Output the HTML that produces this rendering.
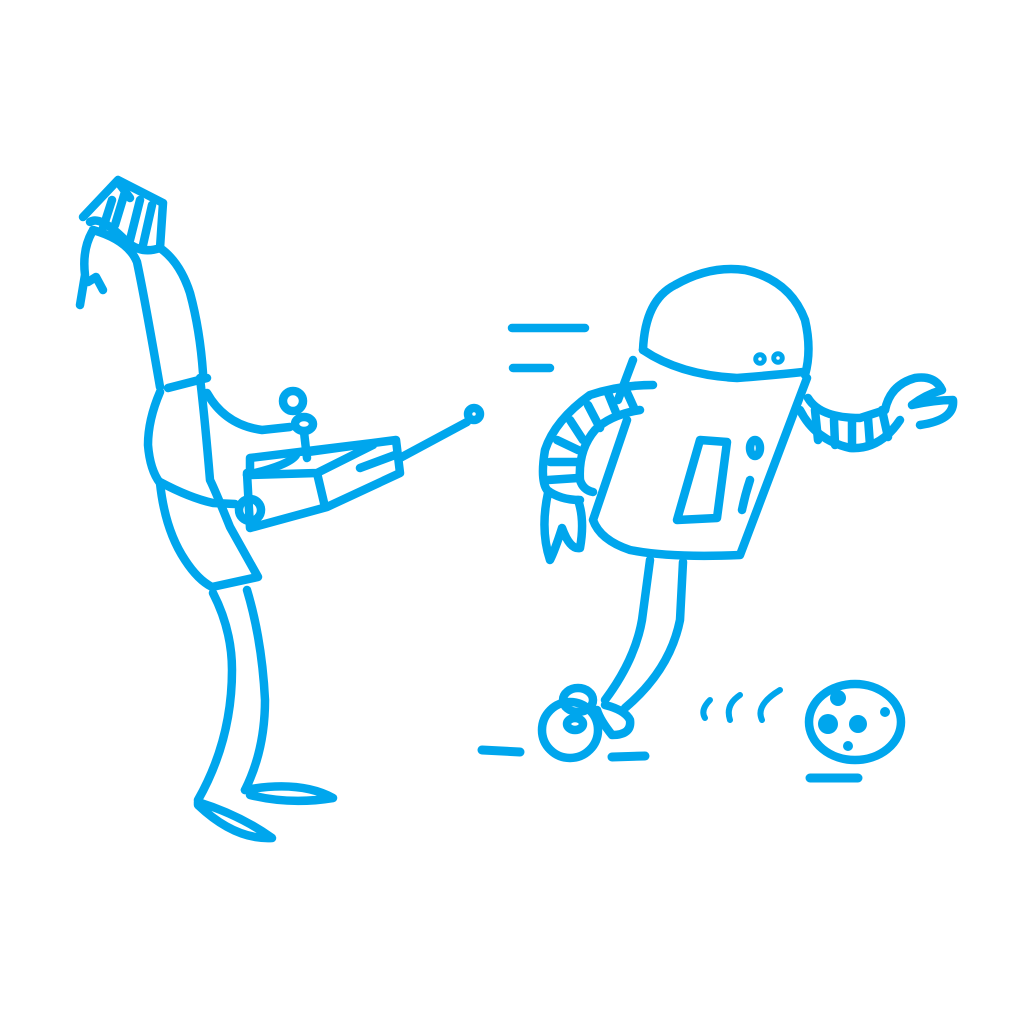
<!DOCTYPE html>
<html><head><style>html,body{margin:0;padding:0;background:#fff}svg{display:block}</style></head>
<body>
<svg width="1024" height="1024" viewBox="0 0 1024 1024" xmlns="http://www.w3.org/2000/svg">
<g fill="none" stroke="#00a6ed" stroke-width="8.5" stroke-linecap="round" stroke-linejoin="round">
<path d="M83 217 L118 180 L163 203 L160 248 Q140 255 125 240 Q100 215 90 222"/>
<path d="M112 200 L103 228 M125 192 L115 225 M140 200 L130 240 M152 205 L143 245 M118 182 L130 198"/>
<path d="M92 232 Q82 250 85 275 L80 305"/>
<path d="M88 282 L96 277 L103 290"/>
<path d="M93 230 Q128 240 137 262 Q145 300 160 387"/>
<path d="M160 248 Q180 262 190 293 Q200 330 203 373"/>
<path d="M168 388 L207 378"/>
<path d="M160 392 Q148 420 148 445 Q150 470 160 483 Q165 530 185 560 Q198 580 212 587 L258 577 Q240 545 230 527 Q215 490 210 480 Q205 420 200 378"/>
<path d="M160 482 Q190 498 213 503 L235 504"/>
<path d="M207 393 Q225 425 262 430 L290 427"/>
<circle cx="293" cy="401" r="10"/>
<ellipse cx="304" cy="424" rx="9" ry="7"/>
<path d="M304 432 L307 458"/>
<path d="M247 475 Q290 465 296 455"/>
<path d="M247 473 L250 528 L327 507 L400 473 L396 440 L373 443 L250 458 L250 475 M250 475 L317 473 L373 445 M317 473 L325 507 M308 452 L373 443"/>
<path d="M360 468 L395 455"/>
<circle cx="250" cy="510" r="11"/>
<path d="M400 458 L467 422"/>
<circle cx="474" cy="414" r="6"/>
<path d="M213 593 Q232 630 232 670 Q232 740 198 800"/>
<path d="M247 590 Q262 640 265 700 Q265 750 245 790"/>
<path d="M198 802 Q240 815 272 838 Q235 840 198 805 Z"/>
<path d="M245 790 Q300 780 333 798 Q290 805 250 795"/>
<path d="M512 328 L585 328 M513 368 L550 368"/>
<path d="M643 350 Q645 300 675 285 Q710 265 745 270 Q790 280 805 320 Q812 350 805 375"/>
<path d="M643 350 Q680 375 737 378 Q775 375 803 372"/>
<circle cx="760" cy="359" r="2.5"/>
<circle cx="778" cy="358" r="2.5"/>
<path d="M633 360 L618 400 M627 420 L593 520 Q600 540 630 550 Q670 558 740 555 L807 378"/>
<path d="M700 440 L727 442 L717 518 L677 520 Z"/>
<ellipse cx="755" cy="448" rx="5" ry="8"/>
<path d="M750 480 Q745 495 742 510"/>
<path d="M653 385 Q620 385 590 395 Q555 420 545 450 Q540 480 547 490 Q560 500 580 500"/>
<path d="M640 410 Q610 415 595 430 Q578 450 580 480 Q583 490 593 492"/>
<path d="M625 388 L635 410 M608 393 L617 415 M588 405 L600 428 M570 420 L583 440 M557 440 L578 450 M550 462 L578 462 M548 480 L578 478"/>
<path d="M548 493 Q540 530 550 560 Q555 550 562 528 Q570 550 580 548 Q585 520 578 500"/>
<path d="M800 410 Q815 440 850 448 Q880 450 900 420"/>
<path d="M808 398 Q820 418 860 418 L885 410"/>
<path d="M815 410 L818 440 M834 420 L835 445 M852 420 L852 447 M868 418 L870 445 M882 410 L888 437"/>
<path d="M885 410 Q890 385 915 378 Q935 375 942 390 Q925 395 912 405 Q935 400 953 400 Q955 420 920 425"/>
<path d="M650 560 L642 620 Q635 660 605 700"/>
<path d="M683 562 L680 620 Q670 670 625 708"/>
<ellipse cx="578" cy="700" rx="15" ry="12"/>
<path d="M605 705 Q625 710 630 720 Q632 735 612 735 Q600 720 597 710"/>
<circle cx="570" cy="730" r="28"/>
<ellipse cx="575" cy="724" rx="8" ry="6"/>
<path d="M482 750 L520 752 M612 757 L645 756 M810 778 L858 778" stroke-width="9"/>
<ellipse cx="855" cy="722" rx="46" ry="38"/>
<path d="M705 718 Q700 710 710 700 M730 720 Q725 705 740 695 M762 720 Q755 705 780 690" stroke-width="6"/>
</g>
<g fill="#00a6ed">
<circle cx="838" cy="698" r="8"/><circle cx="828" cy="724" r="10"/><circle cx="858" cy="724" r="9"/><circle cx="885" cy="712" r="5"/><circle cx="848" cy="746" r="5"/>
</g>
</svg>
</body></html>
